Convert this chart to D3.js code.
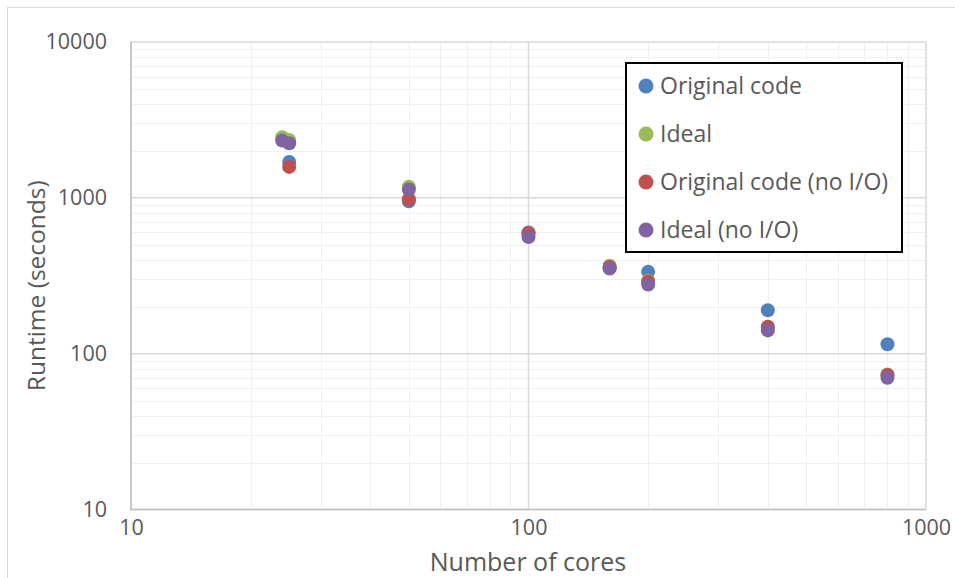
<!DOCTYPE html>
<html>
<head>
<meta charset="utf-8">
<script src="https://cdn.jsdelivr.net/npm/d3@7"></script>
<style>
  html, body { margin: 0; padding: 0; background: #fff; }
  svg { display: block; font-family: "Open Sans", "Noto Sans", sans-serif; }
</style>
</head>
<body>
<svg id="chart" width="955" height="578"></svg>
<script>
// Runtime vs. core count, log–log scatter
const seriesNames = ["Original code", "Ideal", "Original code (no I/O)", "Ideal (no I/O)"];
const seriesColors = ["#4F81BD", "#9BBB59", "#C0504D", "#8064A2"];

const originalCores = [25, 50, 100, 160, 200, 400, 800];
const originalTime  = [1700, 950, 600, 355, 335, 190, 115];

const idealCores = [24, 25, 50, 100, 160, 200, 400, 800];
const idealTime  = [2450, 2350, 1180, 587, 367, 294, 147, 73.5];

const noIoCores = [25, 50, 100, 160, 200, 400, 800];
const noIoTime  = [1580, 980, 590, 360, 290, 149, 73];

const idealNoIoCores = [24, 25, 50, 100, 160, 200, 400, 800];
const idealNoIoTime  = [2330, 2240, 1130, 560, 352, 278, 141, 70];

const xTicks = [10, 100, 1000];
const yTicks = [10, 100, 1000, 10000];

const series = [
  { cores: originalCores,  time: originalTime },
  { cores: idealCores,     time: idealTime },
  { cores: noIoCores,      time: noIoTime },
  { cores: idealNoIoCores, time: idealNoIoTime }
];

const svg = d3.select("#chart");
const W = 955, H = 578;
const plot = { left: 131, right: 926, top: 42, bottom: 509.5 };

const x = d3.scaleLog().domain([10, 1000]).range([plot.left, plot.right]);
const y = d3.scaleLog().domain([10, 10000]).range([plot.bottom, plot.top]);

// chart outer frame
svg.append("rect")
  .attr("x", 7.5).attr("y", 7.5)
  .attr("width", W + 10).attr("height", H + 10)
  .attr("fill", "#fff").attr("stroke", "#d9d9d9").attr("stroke-width", 1);

// minor and major gridlines
const minorVals = (lo, hi) => {
  const out = [];
  for (let d = lo; d < hi; d *= 10) for (let k = 2; k <= 9; k++) out.push(d * k);
  return out;
};
const grid = svg.append("g");
grid.selectAll(".xminor").data(minorVals(10, 1000)).join("line")
  .attr("x1", d => Math.round(x(d)) + 0.5).attr("x2", d => Math.round(x(d)) + 0.5)
  .attr("y1", plot.top).attr("y2", plot.bottom)
  .attr("stroke", "#f0f0f0").attr("stroke-width", 1);
grid.selectAll(".yminor").data(minorVals(10, 10000)).join("line")
  .attr("y1", d => Math.round(y(d)) + 0.5).attr("y2", d => Math.round(y(d)) + 0.5)
  .attr("x1", plot.left).attr("x2", plot.right)
  .attr("stroke", "#f0f0f0").attr("stroke-width", 1);
grid.selectAll(".xmajor").data(xTicks).join("line")
  .attr("x1", d => x(d)).attr("x2", d => x(d))
  .attr("y1", plot.top).attr("y2", plot.bottom)
  .attr("stroke", "#d9d9d9").attr("stroke-width", 1.5);
grid.selectAll(".ymajor").data(yTicks).join("line")
  .attr("y1", d => y(d)).attr("y2", d => y(d))
  .attr("x1", plot.left).attr("x2", plot.right)
  .attr("stroke", "#d9d9d9").attr("stroke-width", 1.5);

// axis lines
svg.append("line")
  .attr("x1", plot.left).attr("x2", plot.left)
  .attr("y1", plot.top).attr("y2", plot.bottom + 1)
  .attr("stroke", "#bfbfbf").attr("stroke-width", 1.5);
svg.append("line")
  .attr("x1", plot.left).attr("x2", plot.right)
  .attr("y1", plot.bottom).attr("y2", plot.bottom)
  .attr("stroke", "#bfbfbf").attr("stroke-width", 1.5);

// axes (labels only)
const fmt = d3.format("d");
const yAxis = d3.axisLeft(y).tickValues(yTicks).tickFormat(fmt).tickSize(0).tickPadding(24);
const xAxis = d3.axisBottom(x).tickValues(xTicks).tickFormat(fmt).tickSize(0).tickPadding(10);

const gy = svg.append("g").attr("transform", `translate(${plot.left},0)`).call(yAxis);
const gx = svg.append("g").attr("transform", `translate(0,${plot.bottom})`).call(xAxis);
[gx, gy].forEach(g => {
  g.select(".domain").remove();
  g.selectAll("text")
    .attr("fill", "#595959")
    .style("font-size", "21.5px")
    .style("font-family", "'Open Sans', 'Noto Sans', sans-serif");
});

// axis titles
svg.append("text")
  .attr("x", (plot.left + plot.right) / 2 - 0.5).attr("y", 571)
  .attr("text-anchor", "middle")
  .attr("fill", "#595959").style("font-size", "25px")
  .text("Number of cores");
svg.append("text")
  .attr("transform", `translate(45,${(plot.top + plot.bottom) / 2 + 10}) rotate(-90)`)
  .attr("text-anchor", "middle")
  .attr("fill", "#595959").style("font-size", "24.5px")
  .text("Runtime (seconds)");

// points
const pts = svg.append("g");
series.forEach((s, i) => {
  pts.append("g").selectAll("circle")
    .data(s.cores.map((c, j) => ({ c, t: s.time[j] })))
    .join("circle")
    .attr("cx", d => x(d.c))
    .attr("cy", d => y(d.t))
    .attr("r", 7)
    .attr("fill", seriesColors[i]);
});

// legend
const leg = svg.append("g");
leg.append("rect")
  .attr("x", 626).attr("y", 63)
  .attr("width", 276).attr("height", 189)
  .attr("fill", "#fff").attr("stroke", "#000").attr("stroke-width", 2);
seriesNames.forEach((name, i) => {
  const cy = 86 + i * 48;
  leg.append("circle").attr("cx", 646).attr("cy", cy).attr("r", 7.5).attr("fill", seriesColors[i]);
  leg.append("text")
    .attr("x", 660).attr("y", cy).attr("dy", "0.35em")
    .attr("fill", "#595959").style("font-size", "23px")
    .text(name);
});
</script>
</body>
</html>
